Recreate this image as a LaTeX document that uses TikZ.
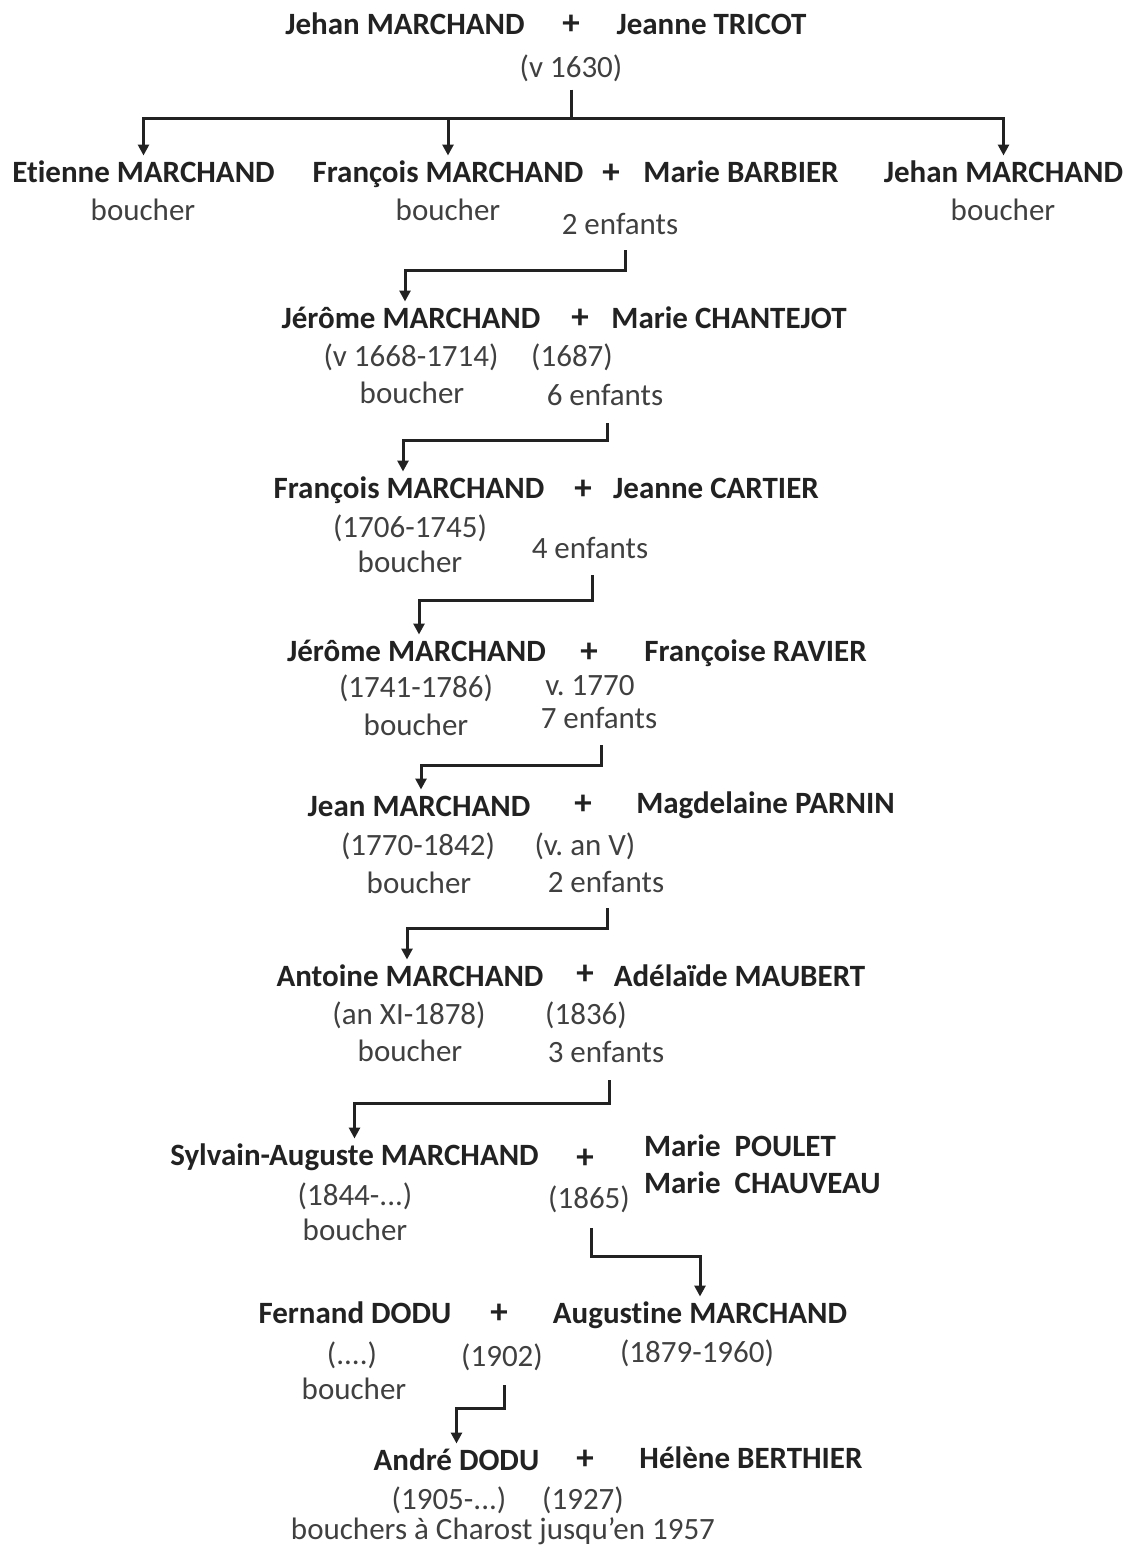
\documentclass[tikz,border=0pt]{standalone}
\usepackage{fontspec}
\setmainfont{Carlito}[Ligatures=NoCommon]
\usetikzlibrary{arrows.meta}
\definecolor{ink}{HTML}{222222}
\definecolor{note}{HTML}{404040}
\frenchspacing
\begin{document}
\begin{tikzpicture}[x=1pt,y=-1pt,
  every node/.style={inner sep=0pt,outer sep=5pt,text height=22pt,text depth=7pt,
    font=\fontsize{31}{36}\selectfont},
  person/.style={font=\fontsize{31}{36}\selectfont\bfseries,text=ink},
  plus/.style={font=\fontsize{35}{40}\selectfont\bfseries,text=ink,yshift=-2pt},
  info/.style={text=note},
  link/.style={draw=ink,line width=3pt},
  arr/.style={link,-{Triangle[width=11pt,length=11pt]}}]
\useasboundingbox (0,0) rectangle (1132,1547);

% generation 0
\node[person] (jehan0) at (405,27) {Jehan MARCHAND};
\node[plus] (p0) at (571,25) {+};
\node[person] (tricot) at (711.5,27) {Jeanne TRICOT};
\node[info] (d0) at (571,70) {(v 1630)};

% generation 1
\node[person] (etienne) at (143.5,175) {Etienne MARCHAND};
\node[info] (etienneJ) at (143,213) {boucher};
\node[person] (francois1) at (448,175) {François MARCHAND};
\node[info] (francois1J) at (448,213) {boucher};
\node[plus] (p1) at (611,174) {+};
\node[person] (barbier) at (741,175) {Marie BARBIER};
\node[person] (jehan1) at (1003.5,175) {Jehan MARCHAND};
\node[info] (jehan1J) at (1003,213) {boucher};
\node[info] (k1) at (620,227) {2 enfants};

% generation 2
\node[person] (jerome1) at (411,321) {Jérôme MARCHAND};
\node[plus] (p2) at (580,319) {+};
\node[person] (chantejot) at (729,321) {Marie CHANTEJOT};
\node[info] (jerome1D) at (411,359) {(v 1668-1714)};
\node[info] (m2) at (572,359) {(1687)};
\node[info] (jerome1J) at (412,396) {boucher};
\node[info] (k2) at (605,398) {6 enfants};

% generation 3
\node[person] (francois2) at (409,491) {François MARCHAND};
\node[plus] (p3) at (583,490) {+};
\node[person] (cartier) at (716,491) {Jeanne CARTIER};
\node[info] (francois2D) at (410,530) {(1706-1745)};
\node[info] (francois2J) at (410,565) {boucher};
\node[info] (k3) at (590,551) {4 enfants};

% generation 4
\node[person] (jerome2) at (416.5,654) {Jérôme MARCHAND};
\node[plus] (p4) at (589,653) {+};
\node[person] (ravier) at (755.5,654) {Françoise RAVIER};
\node[info] (jerome2D) at (416,690) {(1741-1786)};
\node[info] (m4) at (590,688) {v. 1770};
\node[info] (jerome2J) at (416,728) {boucher};
\node[info] (k4) at (599,721) {7 enfants};

% generation 5
\node[person] (jean) at (419,809) {Jean MARCHAND};
\node[plus] (p5) at (583,805) {+};
\node[person] (parnin) at (765.5,806) {Magdelaine PARNIN};
\node[info] (jeanD) at (418,848) {(1770-1842)};
\node[info] (m5) at (585,848) {(v. an V)};
\node[info] (jeanJ) at (419,886) {boucher};
\node[info] (k5) at (606,885) {2 enfants};

% generation 6
\node[person] (antoine) at (410,979) {Antoine MARCHAND};
\node[plus] (p6) at (585,975) {+};
\node[person] (maubert) at (739.5,979) {Adélaïde MAUBERT};
\node[info] (antoineD) at (409,1017) {(an XI-1878)};
\node[info] (m6) at (586,1017) {(1836)};
\node[info] (antoineJ) at (410,1054) {boucher};
\node[info] (k6) at (606,1055) {3 enfants};

% generation 7
\node[person] (sylvain) at (354.5,1158) {Sylvain-Auguste MARCHAND};
\node[plus] (p7) at (585,1159) {+};
\node[person,anchor=west] (poulet) at (639,1149) {Marie\ \ POULET};
\node[person,anchor=west] (chauveau) at (639,1186) {Marie\ \ CHAUVEAU};
\node[info] (sylvainD) at (355,1198) {(1844-...)};
\node[info] (m7) at (589,1201) {(1865)};
\node[info] (sylvainJ) at (355,1233) {boucher};

% generation 8
\node[person] (fernand) at (355,1316) {Fernand DODU};
\node[plus] (p8) at (499,1314) {+};
\node[person] (augustine) at (700,1316) {Augustine MARCHAND};
\node[info] (fernandD) at (352,1357) {(....)};
\node[info] (m8) at (502,1359) {(1902)};
\node[info] (augustineD) at (697,1355) {(1879-1960)};
\node[info] (fernandJ) at (354,1392) {boucher};

% generation 9
\node[person] (andre) at (456.5,1463) {André DODU};
\node[plus] (p9) at (585,1460) {+};
\node[person] (berthier) at (751,1461) {Hélène BERTHIER};
\node[info] (andreD) at (449,1502) {(1905-...)};
\node[info] (m9) at (583,1502) {(1927)};
\node[info] (andreJ) at (503,1532) {bouchers à Charost jusqu’en 1957};

% bends of the descent lines
\coordinate (bar0) at (571,118);
\coordinate (s1) at (625,250);  \coordinate (b1) at (625,270);
\coordinate (s2) at (607,423);  \coordinate (b2) at (607,440);
\coordinate (s3) at (592,575);  \coordinate (b3) at (592,600);
\coordinate (s4) at (601,745);  \coordinate (b4) at (601,765);
\coordinate (s5) at (607,908);  \coordinate (b5) at (607,928);
\coordinate (s6) at (609,1080); \coordinate (b6) at (609,1103);
\coordinate (s7) at (591,1228); \coordinate (b7) at (591,1256);
\coordinate (s8) at (504,1385); \coordinate (b8) at (504,1408);

% descent lines
\draw[link] (d0.south) -- (bar0);
\draw[arr] (bar0) -| (etienne.north);
\draw[arr] (bar0) -| (francois1.north);
\draw[arr] (bar0) -| (jehan1.north);
\draw[arr] (s1) -- (b1) -| ([xshift=-6pt]jerome1.north);
\draw[arr] (s2) -- (b2) -| ([xshift=-6pt]francois2.north);
\draw[arr] (s3) -- (b3) -| ([xshift=2.5pt]jerome2.north);
\draw[arr] (s4) -- (b4) -| ([xshift=2pt]jean.north);
\draw[arr] (s5) -- (b5) -| ([xshift=-3pt]antoine.north);
\draw[arr] (s6) -- (b6) -| (sylvain.north);
\draw[arr] (s7) -- (b7) -| (augustine.north);
\draw[arr] (s8) -- (b8) -| (andre.north);
\end{tikzpicture}
\end{document}
